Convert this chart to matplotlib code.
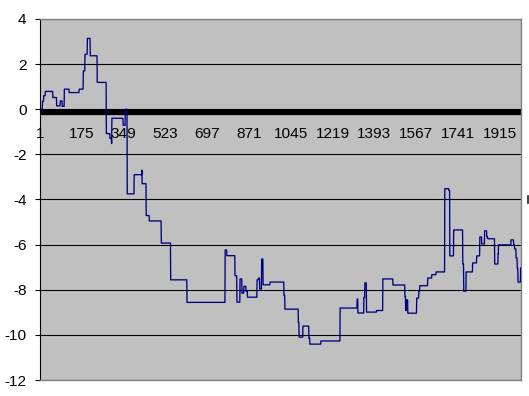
import numpy as np
import matplotlib

matplotlib.use("Agg")
import matplotlib.pyplot as plt
from matplotlib.lines import Line2D

# step series: index where each level starts, and the level
step_start = [
    1, 11, 16, 23, 54, 70, 85, 93, 102, 122, 164, 181, 188, 198, 210, 239,
    277, 292, 299, 300, 347, 356, 364, 393, 425, 426, 443, 456, 506, 545,
    613, 772, 779, 813, 821, 834, 842, 850, 859, 865, 905, 911, 916, 924,
    930, 959, 1017, 1021, 1077, 1080, 1096, 1121, 1125, 1171, 1251, 1322,
    1325, 1350, 1354, 1361, 1403, 1429, 1471, 1521, 1524, 1527, 1533, 1570,
    1579, 1583, 1616, 1633, 1651, 1687, 1704, 1708, 1724, 1762, 1766, 1776,
    1803, 1820, 1833, 1841, 1853, 1862, 1866, 1895, 1909, 1911, 1963, 1974,
    1978, 1984, 1989, 1992, 2003,
]
step_value = [
    0.0, 0.35, 0.6, 0.79, 0.52, 0.15, 0.37, 0.13, 0.89, 0.74, 0.89, 1.7,
    2.44, 3.14, 2.37, 1.19, -1.08, -1.29, -1.52, -0.4, -0.71, 0.0, -3.75,
    -2.9, -2.7, -3.3, -4.71, -4.95, -5.93, -7.56, -8.56, -6.24, -6.49,
    -7.38, -8.55, -7.52, -8.15, -7.85, -8.07, -8.33, -7.56, -7.48, -7.97,
    -6.64, -7.78, -7.66, -8.25, -8.86, -9.45, -10.1, -9.61, -10.15, -10.41,
    -10.27, -8.81, -8.41, -9.03, -8.34, -7.7, -8.99, -8.92, -7.52, -7.79,
    -8.3, -8.92, -8.45, -9.04, -8.37, -8.07, -7.82, -7.48, -7.33, -7.21,
    -3.52, -3.6, -6.5, -5.35, -6.86, -8.06, -7.21, -6.81, -6.5, -5.66,
    -5.97, -5.39, -5.66, -5.74, -6.86, -6.41, -6.01, -5.79, -6.01, -6.19,
    -6.59, -7.05, -7.66, -7.03,
]
n_points = 2004
label_step = 174
y_ticks = list(range(-12, 5, 2))

plt.rcParams["font.family"] = ["Liberation Sans", "DejaVu Sans"]
plt.rcParams["axes.unicode_minus"] = False

lengths = np.diff(step_start + [n_points + 1])
series = np.repeat(step_value, lengths)
idx = np.arange(1, n_points + 1)

fig = plt.figure(figsize=(5.29, 3.96), dpi=100)
ax = fig.add_axes([40 / 529, 1 - 380 / 396, 481 / 529, 361 / 396])
ax.set_facecolor("#c0c0c0")

ax.set_ylim(-12, 4)
ax.set_xlim(0.5, n_points + 0.5)
ax.set_yticks(y_ticks)
ax.set_xticks([])
ax.yaxis.grid(True, color="black", lw=0.8)
ax.set_axisbelow(True)
ax.tick_params(axis="y", direction="out", length=3.6, width=0.8,
               pad=6, labelsize=11.1)

for side in ("top", "right", "bottom"):
    ax.spines[side].set_color("#808080")
    ax.spines[side].set_linewidth(1.0)
ax.spines["left"].set_color("black")
ax.spines["left"].set_linewidth(0.8)

# thick category axis at zero
ax.axhline(-0.1, color="black", lw=3.8, zorder=2)

ax.plot(idx, series, color="#000080", lw=0.95, zorder=3)

for i in range(1, n_points + 1, label_step):
    ax.text(i, -1.26, str(i), ha="center", va="baseline",
            fontsize=11.1, zorder=4)

# clipped legend mark at the right edge
fig.add_artist(Line2D([527.7 / 529, 527.7 / 529],
                      [1 - 196 / 396, 1 - 203 / 396],
                      color="#202020", lw=1.2))

fig.savefig("out.png", dpi=100)
plt.close(fig)
